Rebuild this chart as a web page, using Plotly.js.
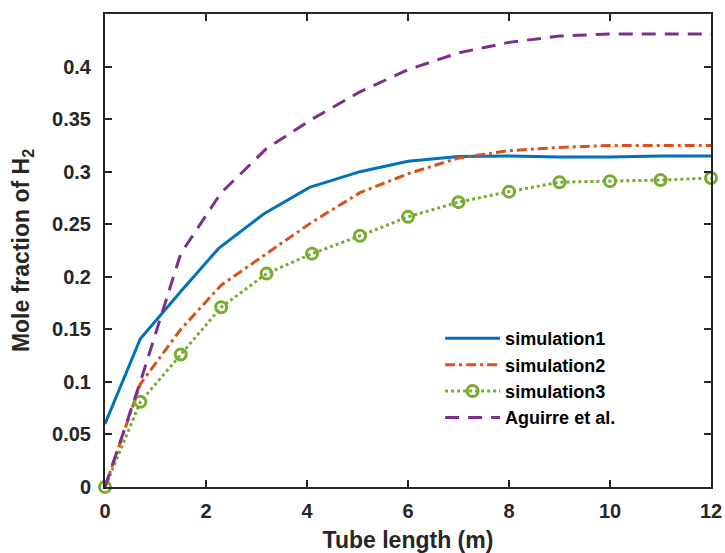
<!DOCTYPE html>
<html>
<head>
<meta charset="utf-8">
<script src="https://cdn.plot.ly/plotly-3.0.1.min.js"></script>
<style>html,body{margin:0;padding:0;background:#fff;}#chart{width:725px;height:553px;}</style>
</head>
<body>
<div id="chart"></div>
<script>
// Data
const x_sim1 = [0, 0.7, 1.5, 2.25, 3.15, 4.05, 5.05, 6, 7, 8, 9, 10, 11, 12];
const y_sim1 = [0.06, 0.141, 0.186, 0.227, 0.260, 0.285, 0.300, 0.310, 0.3145, 0.315, 0.314, 0.314, 0.315, 0.315];

const x_sim2 = [0, 0.7, 1.5, 2.3, 3.2, 4.1, 5.05, 6, 7, 8, 9, 10, 11, 12];
const y_sim2 = [0, 0.098, 0.150, 0.192, 0.222, 0.252, 0.280, 0.298, 0.313, 0.320, 0.323, 0.325, 0.325, 0.325];

const x_sim3 = [0, 0.7, 1.5, 2.3, 3.2, 4.1, 5.05, 6, 7, 8, 9, 10, 11, 12];
const y_sim3 = [0, 0.081, 0.126, 0.171, 0.203, 0.222, 0.239, 0.257, 0.271, 0.281, 0.290, 0.291, 0.292, 0.294];

const x_agu = [0, 0.7, 1.5, 2.3, 3.2, 4.1, 5.05, 6, 7, 8, 9, 10, 11, 12];
const y_agu = [0, 0.100, 0.222, 0.280, 0.322, 0.350, 0.376, 0.397, 0.413, 0.423, 0.429, 0.431, 0.431, 0.431];

const names = ["simulation1", "simulation2", "simulation3", "Aguirre et al."];
const xTicks = [0, 2, 4, 6, 8, 10, 12];
const yTicks = [0, 0.05, 0.1, 0.15, 0.2, 0.25, 0.3, 0.35, 0.4];

const FONT = "Liberation Sans, Arial, sans-serif";
const AX = "#262626";

const traces = [
  {x: x_sim1, y: y_sim1, name: names[0], mode: "lines",
   line: {color: "#0072BD", width: 3}},
  {x: x_sim2, y: y_sim2, name: names[1], mode: "lines",
   line: {color: "#D95319", width: 3, dash: "10px,4px,3px,4px"}},
  {x: x_sim3, y: y_sim3, name: names[2], mode: "lines+markers", cliponaxis: false,
   line: {color: "#77AC30", width: 3, dash: "3px,3px"},
   marker: {symbol: "circle-open", size: 11, color: "#77AC30", line: {width: 3, color: "#77AC30"}}},
  {x: x_agu, y: y_agu, name: names[3], mode: "lines",
   line: {color: "#7E2F8E", width: 3, dash: "14px,9px"}}
];

const axisCommon = {
  showline: true, linewidth: 2, linecolor: AX, mirror: "ticks",
  ticks: "inside", ticklen: 7, tickwidth: 2, tickcolor: AX,
  showgrid: false, zeroline: false,
  tickfont: {family: FONT, size: 20, color: AX, weight: 700}
};

const layout = {
  width: 725, height: 553,
  margin: {l: 105, r: 14, t: 14, b: 66},
  paper_bgcolor: "#fff", plot_bgcolor: "#fff",
  xaxis: Object.assign({}, axisCommon, {
    range: [0, 12], tickmode: "array", tickvals: xTicks, ticktext: xTicks.map(String),
    ticklabelstandoff: 5,
    title: {text: "Tube length (m)", font: {family: FONT, size: 23, color: AX, weight: 700}, standoff: 12}
  }),
  yaxis: Object.assign({}, axisCommon, {
    range: [0, 0.45], tickmode: "array", tickvals: yTicks, ticktext: yTicks.map(String),
    ticklabelstandoff: 8,
    title: {text: "Mole fraction of H<sub>2</sub>", font: {family: FONT, size: 23, color: AX, weight: 700}, standoff: 16}
  }),
  showlegend: true,
  legend: {
    x: 0.553, y: 0.353, xanchor: "left", yanchor: "top",
    bgcolor: "rgba(0,0,0,0)", borderwidth: 0,
    font: {family: FONT, size: 18, color: "#000", weight: 700},
    traceorder: "normal", itemwidth: 55
  }
};

Plotly.newPlot("chart", traces, layout, {staticPlot: true, displayModeBar: false});
</script>
</body>
</html>
